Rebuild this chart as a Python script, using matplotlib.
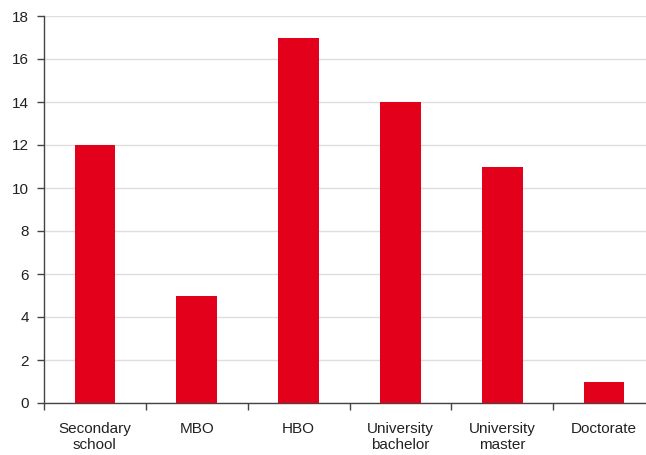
import matplotlib
matplotlib.use("Agg")
import matplotlib.pyplot as plt
import numpy as np

categories = ["Secondary\nschool", "MBO", "HBO", "University\nbachelor", "University\nmaster", "Doctorate"]
values = [12, 5, 17, 14, 11, 1]
y_ticks = [0, 2, 4, 6, 8, 10, 12, 14, 16, 18]

plt.rcParams['font.family'] = ['Liberation Sans', 'DejaVu Sans']

fig = plt.figure(figsize=(6.46, 4.55), dpi=100)
ax = fig.add_axes([44 / 646, 1 - 403 / 455, (655 - 44) / 646, (403 - 16) / 455])

x = np.arange(len(categories))
ax.bar(x, values, width=0.4, color="#E2001A", zorder=3)

ax.set_xlim(-0.5, len(categories) - 0.5)
ax.set_ylim(0, 18)
ax.set_yticks(y_ticks)
ax.set_yticklabels([str(t) for t in y_ticks], fontsize=11, color="#222222")
ax.yaxis.grid(True, color="#DEDEDE", linewidth=1, zorder=0)

# category labels centred, tick marks at category boundaries
ax.set_xticks(np.arange(len(categories) + 1) - 0.5)
ax.set_xticklabels([])
ax.set_xticks(x, minor=True)
ax.set_xticklabels(categories, minor=True, fontsize=11, color="#222222", linespacing=1.15)
ax.tick_params(axis="x", which="minor", length=0, pad=14)
ax.tick_params(axis="x", which="major", length=5, width=1, color="#444444")
ax.tick_params(axis="y", length=5, width=1, color="#444444", pad=6)

for side in ("top", "right"):
    ax.spines[side].set_visible(False)
for side in ("left", "bottom"):
    ax.spines[side].set_color("#444444")
    ax.spines[side].set_linewidth(1)

fig.savefig("out.png", dpi=100)
